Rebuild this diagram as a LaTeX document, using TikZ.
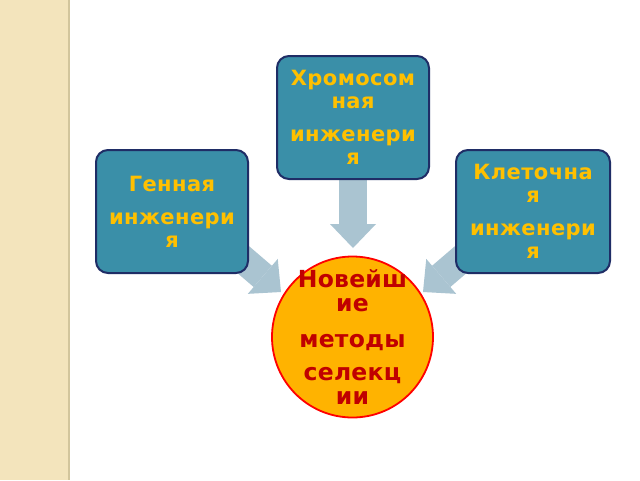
\documentclass[tikz,border=0pt]{standalone}
\usepackage{fontspec}
\setmainfont{DejaVu Sans}
\usetikzlibrary{arrows.meta}
\definecolor{boxfill}{HTML}{3A8FA8}
\definecolor{boxline}{HTML}{1F2D66}
\definecolor{gold}{HTML}{FFC000}
\definecolor{arrowc}{HTML}{AAC4D1}
\definecolor{circfill}{HTML}{FFB300}
\definecolor{darkred}{HTML}{C00000}
\definecolor{strip}{HTML}{F3E4BC}
\definecolor{stripline}{HTML}{D2C59C}
\pgfdeclarelayer{bg}
\pgfsetlayers{bg,main}
\begin{document}
\begin{tikzpicture}[x=1pt,y=-1pt,
  methodbox/.style={draw=boxline, line width=2pt, fill=boxfill, rounded corners=12pt,
    minimum width=152pt, minimum height=123pt, inner sep=0pt, align=center,
    text=gold, font=\fontsize{21}{23}\selectfont\bfseries\addfontfeature{LetterSpace=2}},
  goal/.style={circle, draw=red, line width=1.8pt, fill=circfill, minimum size=161pt,
    inner sep=0pt},
  goaltext/.style={inner sep=0pt, align=center, text=darkred,
    font=\fontsize{23.5}{24.7}\selectfont\bfseries\addfontfeature{LetterSpace=1}},
  blockarrow/.style={draw=arrowc, line width=28pt,
    -{Triangle[width=46pt,length=24pt,line width=0pt]}}]
\useasboundingbox (0,0) rectangle (640,480);
\node[methodbox] (chromo) at (353,117.5) {Хромосом\\ная\\[10pt]инженери\\я};
\node[methodbox] (gene) at (172,211.5) {Генная\\[10pt]инженери\\я};
\node[methodbox, minimum width=154pt] (cell) at (533,211.5) {Клеточна\\я\\[10pt]инженери\\я};
\node[goal, label={[goaltext]center:Новейш\\ие\\[11pt]методы\\[8pt]селекц\\ии}] (newest) at (352.5,337) {};
\coordinate (tipTop) at (353,248);
\coordinate (tipLeft) at (281,292);
\coordinate (tipRight) at (423,292);
\begin{pgfonlayer}{bg}
\fill[white] (0,0) rectangle (640,480);
\fill[strip] (0,0) rectangle (68,480);
\draw[stripline, line width=2pt] (69,0) -- (69,480);
\draw[blockarrow] (chromo.center) -- (tipTop);
\draw[blockarrow] ([shift={(-24,-30)}]gene.south east) -- (tipLeft);
\draw[blockarrow] ([shift={(24,-30)}]cell.south west) -- (tipRight);
\end{pgfonlayer}
\end{tikzpicture}
\end{document}
